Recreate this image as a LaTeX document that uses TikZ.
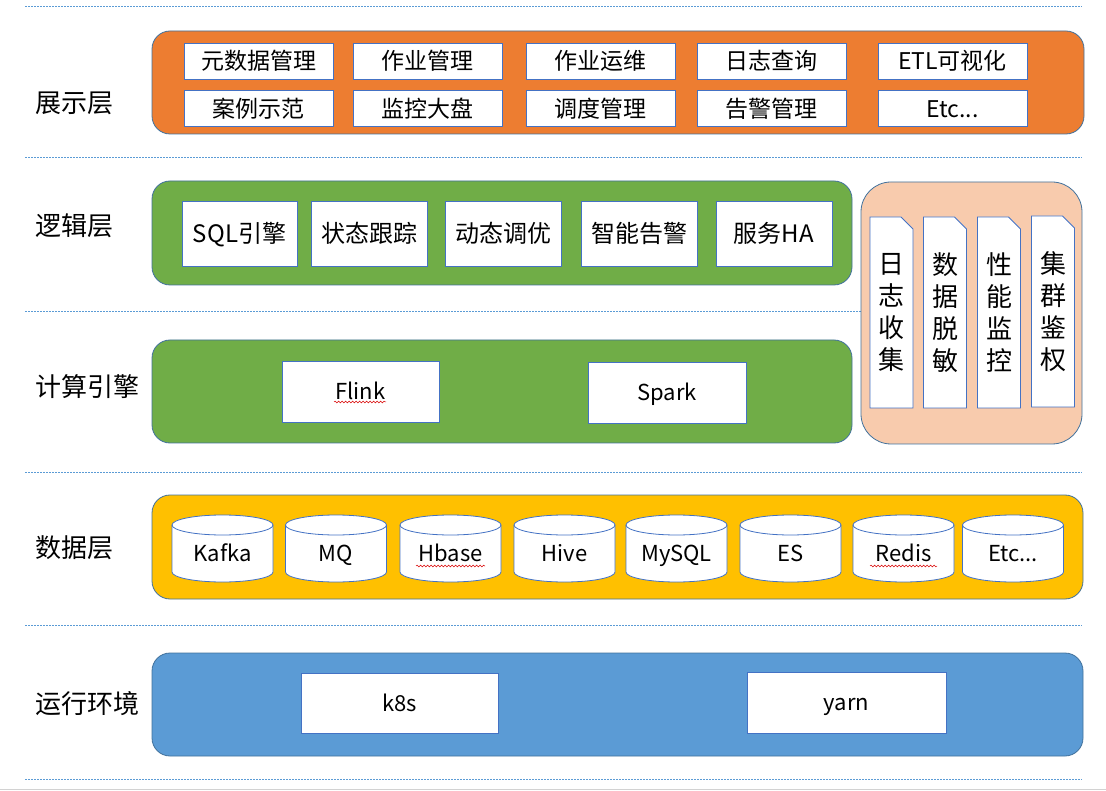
\documentclass[tikz,border=0pt]{standalone}
\usepackage{fontspec}
\setmainfont{Noto Sans CJK SC}
\usetikzlibrary{shapes.misc,decorations.pathmorphing}
\definecolor{orangeC}{HTML}{ED7D31}
\definecolor{greenC}{HTML}{70AD47}
\definecolor{peachC}{HTML}{F8CBAD}
\definecolor{yellowC}{HTML}{FFC000}
\definecolor{blueC}{HTML}{5B9BD5}
\definecolor{panelB}{HTML}{41719C}
\definecolor{boxB}{HTML}{4472C4}
\definecolor{dashC}{HTML}{5B9BD5}
\newcommand\mycyl[1]{%
  \path[cyl] (#1-50.5,525) -- (#1-50.5,572) arc[start angle=180, end angle=0, x radius=50.5, y radius=10]
     -- (#1+50.5,525) arc[start angle=0, end angle=-180, x radius=50.5, y radius=10] -- cycle;
  \draw[draw=boxB, line width=0.8pt] (#1-50.5,525) arc[start angle=180, end angle=0, x radius=50.5, y radius=10];
}
\begin{document}
\begin{tikzpicture}[x=1pt,y=-1pt,
  panel/.style={draw=panelB, line width=0.8pt, rounded corners=18pt, inner sep=0pt, outer sep=0pt},
  wbox/.style={draw=boxB, fill=white, line width=0.8pt, inner sep=0pt, outer sep=0pt, text=black},
  vbox/.style={wbox, chamfered rectangle, chamfered rectangle corners=north east,
     chamfered rectangle xsep=6pt, chamfered rectangle ysep=6pt,
     minimum width=43pt, minimum height=191pt, align=center,
     font=\fontsize{26}{32}\selectfont},
  toptxt/.style={font=\fontsize{23}{27}\selectfont, text height=20.2pt, text depth=2.8pt},
  midtxt/.style={font=\fontsize{24}{28}\selectfont, text height=21.1pt, text depth=2.9pt},
  engtxt/.style={font=\fontsize{22}{26}\selectfont, text height=19.4pt, text depth=2.6pt},
  layer/.style={anchor=west, font=\fontsize{26}{30}\selectfont, text=black, inner sep=0pt, text height=22.9pt, text depth=3.1pt},
  sepline/.style={draw=dashC, line width=0.6pt, dash pattern=on 2pt off 1pt},
  cyl/.style={draw=boxB, fill=white, line width=0.8pt},
  cyltxt/.style={font=\fontsize{22}{26}\selectfont, inner sep=0pt, text height=19.4pt, text depth=2.6pt},
  squig/.style={draw=red!85!black, line width=0.5pt, decorate, decoration={snake, amplitude=0.9pt, segment length=3.5pt}}
]
\useasboundingbox (0,0) rectangle (1106,791);

% separators
\foreach \yy in {6,157,311,472,625,779}{
  \draw[sepline] (25,\yy) -- (1082,\yy);
}
\draw[gray!35, line width=1pt] (0,789) -- (1106,789);

% layer labels
\node[layer] (lshow) at (35,103) {展示层};
\node[layer] (llogic) at (35,226) {逻辑层};
\node[layer] (lcomp) at (35,387) {计算引擎};
\node[layer] (ldata) at (35,548) {数据层};
\node[layer] (lrun) at (35,704) {运行环境};

% panels
\node[panel, fill=orangeC, minimum width=932pt, minimum height=103pt] (pshow) at (618,82.5) {};
\node[panel, fill=greenC, minimum width=700pt, minimum height=104pt] (plogic) at (502,233) {};
\node[panel, fill=greenC, minimum width=700pt, minimum height=103pt] (pcomp) at (502,391.5) {};
\node[panel, fill=peachC, rounded corners=30pt, minimum width=221pt, minimum height=262pt] (pside) at (971.5,313) {};
\node[panel, fill=yellowC, minimum width=931pt, minimum height=104pt] (pdata) at (617.5,547) {};
\node[panel, fill=blueC, minimum width=931pt, minimum height=103pt] (prun) at (617.5,704.5) {};

% presentation boxes
\node[wbox, toptxt, minimum width=149pt, minimum height=36pt] (s1) at (258.5,61) {元数据管理};
\node[wbox, toptxt, minimum width=149pt, minimum height=36pt] (s2) at (427.5,61) {作业管理};
\node[wbox, toptxt, minimum width=149pt, minimum height=36pt] (s3) at (600.5,61) {作业运维};
\node[wbox, toptxt, minimum width=149pt, minimum height=36pt] (s4) at (771.5,61) {日志查询};
\node[wbox, toptxt, minimum width=149pt, minimum height=36pt] (s5) at (952.5,61) {ETL可视化};
\node[wbox, toptxt, minimum width=149pt, minimum height=36pt] (s6) at (258.5,108.5) {案例示范};
\node[wbox, toptxt, minimum width=149pt, minimum height=36pt] (s7) at (427.5,108.5) {监控大盘};
\node[wbox, toptxt, minimum width=149pt, minimum height=36pt] (s8) at (600.5,108.5) {调度管理};
\node[wbox, toptxt, minimum width=149pt, minimum height=36pt] (s9) at (771.5,108.5) {告警管理};
\node[wbox, toptxt, minimum width=149pt, minimum height=36pt] (s10) at (952.5,108.5) {Etc...};

% logic boxes
\node[wbox, midtxt, minimum width=115pt, minimum height=65pt] (g1) at (239.5,233.5) {SQL引擎};
\node[wbox, midtxt, minimum width=116pt, minimum height=65pt] (g2) at (369,233.5) {状态跟踪};
\node[wbox, midtxt, minimum width=116pt, minimum height=65pt] (g3) at (503,233.5) {动态调优};
\node[wbox, midtxt, minimum width=116pt, minimum height=65pt] (g4) at (639,233.5) {智能告警};
\node[wbox, midtxt, minimum width=116pt, minimum height=65pt] (g5) at (774,233.5) {服务HA};

% compute boxes
\node[wbox, engtxt, minimum width=157pt, minimum height=61pt] (flink) at (360.5,391.5) {Flink};
\node[wbox, engtxt, minimum width=158pt, minimum height=61pt] (spark) at (667,392.5) {Spark};
\draw[squig] (334,402) -- (386,402);

% side vertical boxes
\node[vbox] (v1) at (891.5,312.5) {日\\志\\收\\集};
\node[vbox] (v2) at (945,312.5) {数\\据\\脱\\敏};
\node[vbox] (v3) at (999,312.5) {性\\能\\监\\控};
\node[vbox] (v4) at (1053,311.5) {集\\群\\鉴\\权};

% cylinders
\mycyl{222.5}\node[cyltxt] (kafka) at (222.5,553) {Kafka};
\mycyl{336}\node[cyltxt] (mq) at (336,553) {MQ};
\mycyl{450.5}\node[cyltxt] (hbase) at (450.5,553) {Hbase};
\mycyl{564.5}\node[cyltxt] (hive) at (564.5,553) {Hive};
\mycyl{676.5}\node[cyltxt] (mysql) at (676.5,553) {MySQL};
\mycyl{790.5}\node[cyltxt] (es) at (790.5,553) {ES};
\mycyl{903.5}\node[cyltxt] (redis) at (903.5,553) {Redis};
\mycyl{1013}\node[cyltxt] (etcd) at (1013,553) {Etc...};
\draw[squig] (416,566) -- (485,566);
\draw[squig] (870,566) -- (937,566);

% runtime boxes
\node[wbox, engtxt, minimum width=197pt, minimum height=60pt] (k8s) at (399.5,703) {k8s};
\node[wbox, engtxt, minimum width=199pt, minimum height=61pt] (yarn) at (846.5,702.5) {yarn};
\end{tikzpicture}
\end{document}
